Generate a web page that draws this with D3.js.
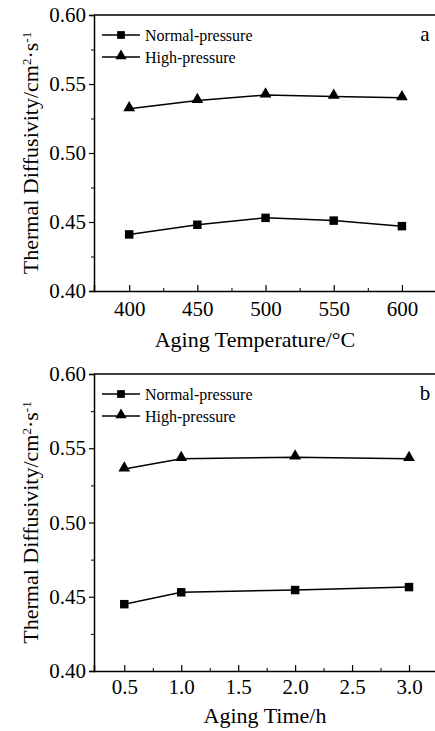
<!doctype html>
<html>
<head>
<meta charset="utf-8">
<style>
body { margin: 0; background: white; }
</style>
<script src="https://cdnjs.cloudflare.com/ajax/libs/d3/7.8.5/d3.min.js"></script>
</head>
<body>
<div id="chart"></div>
<script>
// panel a: aging temperature
var tempX = [400, 450, 500, 550, 600];
var tempNormal = [0.441, 0.448, 0.453, 0.451, 0.447];
var tempHigh = [0.532, 0.538, 0.542, 0.541, 0.540];
var tempTicks = [400, 450, 500, 550, 600];

// panel b: aging time
var timeX = [0.5, 1.0, 2.0, 3.0];
var timeNormal = [0.445, 0.453, 0.4545, 0.4565];
var timeHigh = [0.536, 0.543, 0.544, 0.543];
var timeTicks = [0.5, 1.0, 1.5, 2.0, 2.5, 3.0];

var yTicks = [0.40, 0.45, 0.50, 0.55, 0.60];
var seriesNames = ["Normal-pressure", "High-pressure"];

var width = 435, height = 731;
var serif = "'Liberation Serif', 'Times New Roman', Times, serif";

var svg = d3.select("#chart").append("svg")
    .attr("width", width)
    .attr("height", height)
    .attr("font-family", serif);

function panel(opt) {
    var x = d3.scaleLinear().domain(opt.xDomain).range([94, 436]);
    var y = d3.scaleLinear().domain([0.40, 0.60]).range([opt.bottom, opt.top]);
    var g = svg.append("g");

    // top frame line
    g.append("line")
        .attr("x1", 94).attr("x2", 436)
        .attr("y1", opt.top).attr("y2", opt.top)
        .attr("stroke", "black").attr("stroke-width", 1.5);

    // bottom axis, ticks pointing inward
    var xa = g.append("g").attr("transform", "translate(0," + opt.bottom + ")")
        .call(d3.axisBottom(x).tickValues(opt.xTicks).tickSize(-6).tickFormat(opt.xFormat));
    xa.attr("font-family", serif);
    xa.select(".domain").attr("stroke-width", 1.5);
    xa.selectAll("text").attr("font-size", 21).attr("y", opt.labelGap).attr("dy", "0.71em");
    xa.selectAll(".tick line").attr("stroke-width", 1.2);
    // minor ticks
    g.append("g").attr("transform", "translate(0," + opt.bottom + ")")
        .call(d3.axisBottom(x).tickValues(opt.xMinor).tickSize(-3).tickFormat(""))
        .select(".domain").remove();

    var ya = g.append("g").attr("transform", "translate(94,0)")
        .call(d3.axisLeft(y).tickValues(yTicks).tickSize(5).tickFormat(d3.format(".2f")));
    ya.attr("font-family", serif);
    ya.select(".domain").attr("stroke-width", 1.5);
    ya.selectAll("text").attr("font-size", 21).attr("x", -8);
    ya.selectAll(".tick line").attr("stroke-width", 1.2);
    g.append("g").attr("transform", "translate(94,0)")
        .call(d3.axisLeft(y).tickValues([0.425, 0.475, 0.525, 0.575]).tickSize(3).tickFormat(""))
        .select(".domain").remove();

    // series
    var line = d3.line().x(function(d) { return x(d[0]); }).y(function(d) { return y(d[1]); });
    [opt.normal, opt.high].forEach(function(vals, i) {
        var pts = opt.xs.map(function(v, j) { return [v, vals[j]]; });
        g.append("path").datum(pts)
            .attr("d", line).attr("fill", "none")
            .attr("stroke", "black").attr("stroke-width", 1.5);
        var sym = d3.symbol().type(i === 0 ? d3.symbolSquare : d3.symbolTriangle).size(i === 0 ? 72 : 60);
        g.selectAll(".m" + i).data(pts).enter().append("path")
            .attr("transform", function(d) { return "translate(" + x(d[0]) + "," + (y(d[1]) + (i === 1 ? -1 : 0)) + ")"; })
            .attr("d", sym).attr("fill", "black");
    });

    // legend
    seriesNames.forEach(function(name, i) {
        var ly = opt.top + 20 + i * 22;
        g.append("line").attr("x1", 102).attr("x2", 140).attr("y1", ly).attr("y2", ly)
            .attr("stroke", "black").attr("stroke-width", 1.5);
        g.append("path")
            .attr("transform", "translate(121," + (ly + (i === 1 ? -1 : 0)) + ")")
            .attr("d", d3.symbol().type(i === 0 ? d3.symbolSquare : d3.symbolTriangle).size(i === 0 ? 60 : 55))
            .attr("fill", "black");
        g.append("text").attr("x", 145).attr("y", ly).attr("dy", "0.35em")
            .attr("font-size", 16).text(name);
    });

    g.append("text").attr("x", 425).attr("y", opt.top + 19).attr("dy", "0.35em")
        .attr("text-anchor", "middle").attr("font-size", 21).text(opt.letter);

    g.append("text").attr("x", opt.titleX).attr("y", opt.bottom + opt.titleGap)
        .attr("text-anchor", "middle").attr("font-size", 22).text(opt.xTitle);

    var yt = g.append("text")
        .attr("transform", "translate(38," + ((opt.top + opt.bottom) / 2) + ") rotate(-90)")
        .attr("text-anchor", "middle").attr("font-size", 22);
    yt.append("tspan").text("Thermal Diffusivity/cm");
    yt.append("tspan").attr("baseline-shift", "super").attr("font-size", 13).text("2");
    yt.append("tspan").text("\u00b7s");
    yt.append("tspan").attr("baseline-shift", "super").attr("font-size", 13).text("-1");
}

panel({
    top: 15, bottom: 291, xDomain: [374.2, 625],
    xTicks: tempTicks, xMinor: [425, 475, 525, 575], xFormat: d3.format("d"),
    xs: tempX, normal: tempNormal, high: tempHigh,
    letter: "a", xTitle: "Aging Temperature/\u00b0C",
    labelGap: 10, titleGap: 56, titleX: 255
});

panel({
    top: 374, bottom: 671, xDomain: [0.234, 3.237],
    xTicks: timeTicks, xMinor: [0.75, 1.25, 1.75, 2.25, 2.75], xFormat: d3.format(".1f"),
    xs: timeX, normal: timeNormal, high: timeHigh,
    letter: "b", xTitle: "Aging Time/h",
    labelGap: 8, titleGap: 52, titleX: 265
});
</script>
</body>
</html>
